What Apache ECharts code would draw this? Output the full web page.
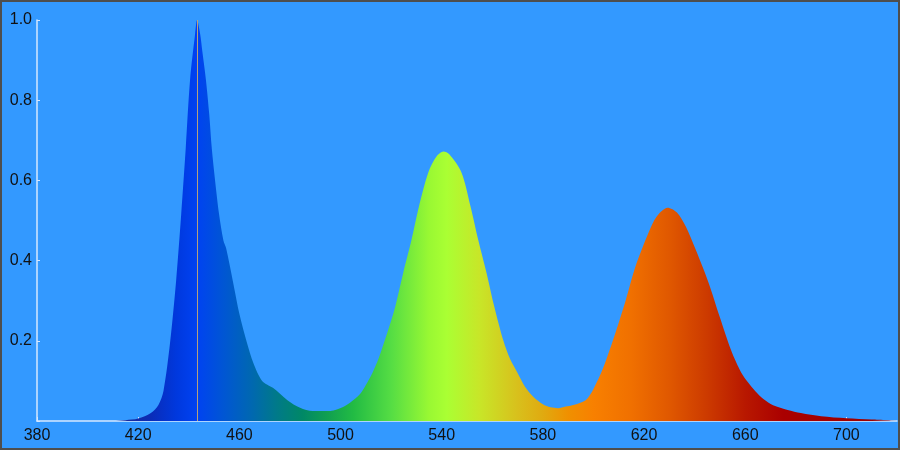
<!DOCTYPE html>
<html>
<head>
    <meta charset="utf-8" />
    <title>Spectrum</title>
    <script src="https://cdn.jsdelivr.net/npm/echarts@6/dist/echarts.min.js"></script>
    <style>
        body { margin: 0; }
        #wrap { position: relative; width: 900px; height: 450px; }
        #container { width: 900px; height: 450px; }
        #frame {
            position: absolute; left: 0; top: 0; width: 900px; height: 450px;
            box-sizing: border-box; border: 2px solid #4e4e4e; pointer-events: none;
        }
    </style>
</head>
<body>
<div id="wrap">
    <div id="container"></div>
    <div id="frame"></div>
</div>
<script>
// wavelength (nm) and relative intensity
var wavelengths = [380, 410, 415, 420, 425, 428, 430, 432.6, 435, 437, 438.8, 440.5, 442.5, 443.3,
    444.5, 445.4, 446.8, 448.1, 449.1, 450.4, 452, 453.7, 454.8, 457.4, 460.1, 463, 465.5, 469, 473.4,
    479, 484, 489, 496, 501, 504, 507.8, 510, 512.6, 515, 517.7, 520, 521.7, 524.8, 528, 531, 534.7,
    538, 540.7, 543, 547.8, 551.4, 554.5, 557.7, 560.8, 564.4, 567, 570, 573, 576.3, 580, 583, 586,
    589, 592, 596.9, 600, 604, 608.7, 612.7, 616.6, 621.8, 625, 629.3, 633, 636.5, 640.4, 645.5, 649.9,
    654.3, 656.5, 658.5, 661, 664, 667.3, 671, 676.8, 682, 690, 700, 710, 720];
var intensity = [0, 0, 0.002, 0.006, 0.02, 0.04, 0.075, 0.195, 0.35, 0.515, 0.68, 0.85, 0.965, 1.0,
    0.965, 0.92, 0.85, 0.765, 0.68, 0.6, 0.515, 0.45, 0.43, 0.35, 0.265, 0.195, 0.145, 0.1, 0.082,
    0.052, 0.033, 0.025, 0.025, 0.035, 0.047, 0.068, 0.09, 0.12, 0.155, 0.205, 0.25, 0.287, 0.37, 0.45, 0.535, 0.62,
    0.66, 0.672, 0.665, 0.62, 0.535, 0.45, 0.37, 0.285, 0.2, 0.155, 0.12, 0.085, 0.06, 0.042, 0.034, 0.032,
    0.036, 0.04, 0.052, 0.08, 0.135, 0.22, 0.3, 0.385, 0.47, 0.51, 0.532, 0.52, 0.485, 0.4275, 0.345, 0.26,
    0.178, 0.145, 0.12, 0.097, 0.074, 0.054, 0.039, 0.0275, 0.02, 0.012, 0.007, 0.004, 0.002];
var peakMarker = 443.3;

var xMin = 380, xMax = 720;

// spectrum colours along the x axis
var stopNm = [380, 415, 425, 435, 443, 455, 465, 475, 485, 495, 505, 520, 535, 542, 555, 570, 580, 590, 600, 615, 630, 645, 660, 675, 720];
var stopColor = ['#1a1aaa', '#1a2a99', '#0a2cb8', '#0038dd', '#0042f2', '#0058d0', '#0068b0', '#007a88', '#008866', '#11a050',
    '#22bb44', '#55dd44', '#99f833', '#aaff33', '#c8e628', '#d8c01c', '#e0aa10', '#f09000', '#f88000', '#f07000',
    '#e05800', '#cc3a00', '#b81800', '#aa0000', '#990000'];

var data = [];
for (var i = 0; i < wavelengths.length; i++) {
    data.push([wavelengths[i], intensity[i]]);
}
var stops = [];
for (var i = 0; i < stopNm.length; i++) {
    stops.push({ offset: (stopNm[i] - xMin) / (xMax - xMin), color: stopColor[i] });
}

var myChart = echarts.init(document.getElementById('container'));
var axisColor = '#d6e8ff';
var labelFont = { color: '#111', fontSize: 16, fontFamily: 'Liberation Sans, Arial, sans-serif' };

var option = {
    backgroundColor: '#3399ff',
    animation: false,
    grid: { left: 37, right: 3, top: 20, bottom: 29 },
    xAxis: {
        type: 'value',
        min: xMin,
        max: xMax,
        interval: 40,
        axisLine: { lineStyle: { color: axisColor, width: 1.5 } },
        axisTick: { inside: true, length: 4, lineStyle: { color: axisColor } },
        axisLabel: Object.assign({ margin: 7, showMaxLabel: false }, labelFont),
        splitLine: { show: false }
    },
    yAxis: {
        type: 'value',
        min: 0,
        max: 1,
        interval: 0.2,
        axisLine: { show: true, lineStyle: { color: axisColor, width: 1.5 } },
        axisTick: { show: true, inside: true, length: 3, lineStyle: { color: axisColor } },
        axisLabel: Object.assign({
            margin: 5,
            formatter: function (v) { return v === 0 ? '' : v.toFixed(1); }
        }, labelFont),
        splitLine: { show: false }
    },
    series: [{
        type: 'line',
        data: data,
        smooth: 0.3,
        showSymbol: false,
        lineStyle: { width: 0 },
        areaStyle: {
            opacity: 1,
            color: { type: 'linear', x: 0, y: 0, x2: 1, y2: 0, colorStops: stops }
        },
        markLine: {
            silent: true,
            symbol: 'none',
            label: { show: false },
            lineStyle: { color: '#b8a07a', width: 1, type: 'solid' },
            data: [{ xAxis: peakMarker }]
        }
    }]
};
myChart.setOption(option);
</script>
</body>
</html>
